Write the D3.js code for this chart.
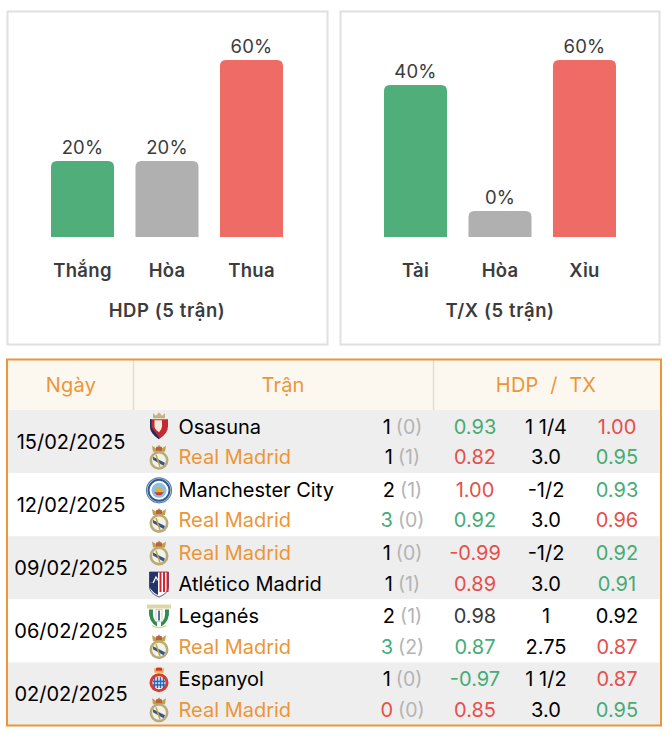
<!DOCTYPE html>
<html>
<head>
<meta charset="utf-8">
<script src="https://cdn.jsdelivr.net/npm/d3@7"></script>
<style>
  html, body { margin: 0; padding: 0; background: #fff; }
  svg { display: block; font-family: Inter, "Noto Sans", sans-serif; }
</style>
</head>
<body>
<script>
// Bar panels
let hdpLabels = ["Thắng", "Hòa", "Thua"];
let hdpValues = [20, 20, 60];
let txLabels = ["Tài", "Hòa", "Xỉu"];
let txValues = [40, 0, 60];
let barColors = ["#50ae7b", "#b0b0b0", "#ef6b65"];

// Match table
let dates = ["15/02/2025", "12/02/2025", "09/02/2025", "06/02/2025", "02/02/2025"];
let teams = ["Osasuna", "Real Madrid", "Manchester City", "Real Madrid", "Real Madrid",
  "Atlético Madrid", "Leganés", "Real Madrid", "Espanyol", "Real Madrid"];
let goals = [1, 1, 2, 3, 1, 1, 2, 3, 1, 0];
let halfGoals = [0, 1, 1, 0, 0, 1, 1, 2, 0, 0];
let goalTrend = ["n", "n", "n", "u", "n", "n", "n", "u", "n", "d"];
let oddsLeft = ["0.93", "0.82", "1.00", "0.92", "-0.99", "0.89", "0.98", "0.87", "-0.97", "0.85"];
let oddsLeftTrend = ["u", "d", "d", "u", "d", "d", "g", "u", "u", "d"];
let lines = ["1 1/4", "3.0", "-1/2", "3.0", "-1/2", "3.0", "1", "2.75", "1 1/2", "3.0"];
let oddsRight = ["1.00", "0.95", "0.93", "0.96", "0.92", "0.91", "0.92", "0.87", "0.87", "0.95"];
let oddsRightTrend = ["d", "u", "u", "d", "u", "u", "n", "d", "d", "u"];

let orange = "#ec9638";
let trendColor = { u: "#46ab75", d: "#e64f4b", n: "#000", g: "#3a3a3a" };

let svg = d3.select("body").append("svg")
  .attr("width", 670)
  .attr("height", 742);

// The site gives 0% a stub, and the 60% bar is capped, so the scale is piecewise
function drawPanel(left, width, labels, values, title) {
  let panel = svg.append("g").attr("transform", "translate(" + left + ",0)");

  panel.append("rect")
    .attr("x", 0.5).attr("y", 11.5)
    .attr("width", width).attr("height", 333)
    .attr("fill", "#fff")
    .attr("stroke", "#e0e0e0")
    .attr("stroke-width", 2);

  let x = d3.scaleBand()
    .domain(labels)
    .range([44, 276])
    .paddingInner(0.254)
    .paddingOuter(0);

  let y = d3.scaleLinear()
    .domain([0, 20, 40, 60])
    .range([211, 161, 85, 60]);
  let base = 237;

  labels.forEach((label, i) => {
    let bx = x(label), bw = x.bandwidth(), by = y(values[i]), r = 6;
    panel.append("path")
      .attr("d", "M" + bx + "," + base + "V" + (by + r)
        + "Q" + bx + "," + by + " " + (bx + r) + "," + by
        + "H" + (bx + bw - r)
        + "Q" + (bx + bw) + "," + by + " " + (bx + bw) + "," + (by + r)
        + "V" + base + "Z")
      .attr("fill", barColors[i]);
    panel.append("text")
      .attr("x", bx + bw / 2)
      .attr("y", by - 7)
      .attr("text-anchor", "middle")
      .attr("fill", "#3c3c3c")
      .style("font-size", "18.5px")
      .style("letter-spacing", "0.2px")
      .text(values[i] + "%");
  });

  let axis = panel.append("g")
    .attr("transform", "translate(0,264)")
    .call(d3.axisBottom(x).tickSize(0).tickPadding(0));
  axis.select(".domain").remove();
  axis.selectAll("text")
    .attr("fill", "#3c3c3c")
    .style("font-family", "Inter, sans-serif")
    .style("font-size", "18.5px")
    .style("font-weight", 600)
    .style("letter-spacing", "0.3px");

  panel.append("text")
    .attr("x", 160)
    .attr("y", 317)
    .attr("text-anchor", "middle")
    .attr("fill", "#3c3c3c")
    .style("font-size", "18.5px")
    .style("font-weight", 600)
    .style("letter-spacing", "0.6px")
    .text(title);
}

drawPanel(7, 320, hdpLabels, hdpValues, "HDP (5 trận)");
drawPanel(340, 319, txLabels, txValues, "T/X (5 trận)");

// Table
let table = svg.append("g");
let rowBand = d3.scaleBand().domain(dates).range([410, 725.5]);
let lineY = (i) => rowBand(dates[Math.floor(i / 2)]) + rowBand.bandwidth() / 2 + (i % 2 ? 15.8 : -14.8);

table.append("rect")
  .attr("x", 7).attr("y", 359).attr("width", 654).attr("height", 51)
  .attr("fill", "#fdf8ef");

dates.forEach((d, i) => {
  table.append("rect")
    .attr("x", 7).attr("y", rowBand(d))
    .attr("width", 654).attr("height", rowBand.bandwidth())
    .attr("fill", i % 2 ? "#fff" : "#eeeeee");
  table.append("text")
    .attr("x", 71).attr("y", rowBand(d) + rowBand.bandwidth() / 2 + 0.5)
    .attr("dy", "0.35em")
    .attr("text-anchor", "middle")
    .attr("fill", "#000")
    .style("font-size", "20px")
    .text(d);
});

// header dividers
[133.5, 433.5].forEach((lx) => {
  table.append("line")
    .attr("x1", lx).attr("x2", lx).attr("y1", 360).attr("y2", 410)
    .attr("stroke", "#e2ddd4").attr("stroke-width", 1.5);
});

table.append("rect")
  .attr("x", 7).attr("y", 359.5).attr("width", 654).attr("height", 366)
  .attr("fill", "none")
  .attr("stroke", orange)
  .attr("stroke-width", 2);

[["Ngày", 71], ["Trận", 283], ["HDP\u00a0\u00a0/\u00a0\u00a0TX", 546]].forEach((h) => {
  table.append("text")
    .attr("x", h[1]).attr("y", 385)
    .attr("dy", "0.35em")
    .attr("text-anchor", "middle")
    .attr("fill", orange)
    .style("font-size", "20px")
    .style("letter-spacing", "0.2px")
    .text(h[0]);
});

function cell(x, i, txt, color, anchor) {
  return table.append("text")
    .attr("x", x).attr("y", lineY(i))
    .attr("dy", "0.35em")
    .attr("text-anchor", anchor || "middle")
    .attr("fill", color)
    .style("font-size", "20px")
    .text(txt);
}

teams.forEach((team, i) => {
  cell(178.5, i, team, team === "Real Madrid" ? orange : "#000", "start");

  let score = cell(402.5, i, null, "#000");
  score.append("tspan").attr("fill", trendColor[goalTrend[i]]).text(goals[i]);
  score.append("tspan").attr("fill", "#b4b4b4").attr("dx", 5).style("font-size", "19.5px").text("(" + halfGoals[i] + ")");

  cell(475, i, oddsLeft[i], trendColor[oddsLeftTrend[i]]);
  cell(546, i, lines[i], "#000");
  cell(617, i, oddsRight[i], trendColor[oddsRightTrend[i]]);

  drawCrest(team, 159, lineY(i) + 0.5);
});

// Small hand drawn crests, each about 24px tall
function drawCrest(team, cx, cy) {
  let g = table.append("g").attr("transform", "translate(" + cx + "," + cy + ")");
  if (team === "Real Madrid") {
    g.append("path").attr("d", "M-6,-6 L-7,-12 L-3,-9.5 L0,-13 L3,-9.5 L7,-12 L6,-6 Z").attr("fill", "#c2a04a");
    g.append("path").attr("d", "M-3,-11 H3 V-7 H-3 Z").attr("fill", "#b5443e").attr("opacity", 0.7);
    g.append("circle").attr("cy", 2.5).attr("r", 8.2).attr("fill", "#f4f2e6").attr("stroke", "#b8ad78").attr("stroke-width", 2.6);
    g.append("path").attr("d", "M-6,-1 L6,5 L4.5,8 L-6,2 Z").attr("fill", "#35558f");
    g.append("path").attr("d", "M-3,-3 L1,9").attr("stroke", "#c3a548").attr("stroke-width", 1.5);
  } else if (team === "Osasuna") {
    g.append("path").attr("d", "M-6,-9 L-6,-14 L-3,-11.5 L0,-15 L3,-11.5 L6,-14 L6,-9 Z").attr("fill", "#c9b27a");
    g.append("path").attr("d", "M-9,-8 H9 V-1 Q9,6 0,12 Q-9,6 -9,-1 Z").attr("fill", "#c42a32");
    g.append("path").attr("d", "M-4.5,-7 H3 V-1 Q3,2 0,5 Q-4.5,2 -4.5,-1 Z").attr("fill", "#f4ecd8");
    g.append("path").attr("d", "M-9,-8 H-7.5 V0 L0,10 L0,12 Q-9,6 -9,-1 Z").attr("fill", "#1c2f5c");
  } else if (team === "Manchester City") {
    g.append("circle").attr("r", 12.5).attr("fill", "#fff").attr("stroke", "#5b7fa8").attr("stroke-width", 1.2);
    g.append("circle").attr("r", 10.5).attr("fill", "none").attr("stroke", "#2f5b93").attr("stroke-width", 2);
    g.append("circle").attr("r", 7.5).attr("fill", "#8cc0e6");
    g.append("path").attr("d", "M-4,2 L-3,-3 L3,-3 L4,2 Z").attr("fill", "#e0b03a");
    g.append("path").attr("d", "M-5,2 H5 L2,5 H-2 Z").attr("fill", "#c8432e");
  } else if (team === "Atlético Madrid") {
    g.append("path").attr("d", "M-9.5,-12 H9.5 V3 Q9.5,9 0,13 Q-9.5,9 -9.5,3 Z").attr("fill", "#fff").attr("stroke", "#26336a").attr("stroke-width", 0.8);
    g.append("path").attr("d", "M-9.5,-12 H-1 V-4 L-9.5,-1 Z").attr("fill", "#26336a");
    g.append("path").attr("d", "M-9.5,-1 L-1,-4 V11 Q-7,8 -9.5,3 Z").attr("fill", "#26336a");
    [1, 4.5, 8].forEach((s) => {
      g.append("rect").attr("x", s - 0.5).attr("y", -12).attr("width", 2).attr("height", 20).attr("fill", "#d8232f");
    });
    g.append("path").attr("d", "M-6,-1 L-3,-7 L-1,-4").attr("fill", "none").attr("stroke", "#fff").attr("stroke-width", 1.2);
  } else if (team === "Leganés") {
    g.append("rect").attr("x", -12).attr("y", -12).attr("width", 24).attr("height", 4).attr("fill", "#dcd6a8");
    g.append("path").attr("d", "M-10,-7 Q-11,5 -2,10 L-2,6 Q-7,3 -6,-7 Z").attr("fill", "#2f8a55");
    g.append("path").attr("d", "M10,-7 Q11,5 2,10 L2,6 Q7,3 6,-7 Z").attr("fill", "#2f8a55");
    g.append("rect").attr("x", -3).attr("y", -7).attr("width", 6).attr("height", 12).attr("fill", "#fff").attr("stroke", "#c9c38a").attr("stroke-width", 0.7);
    g.append("rect").attr("x", -0.8).attr("y", -6).attr("width", 1.6).attr("height", 10).attr("fill", "#2a4f8f");
    g.append("path").attr("d", "M-7,9 Q0,13 7,9").attr("fill", "none").attr("stroke", "#d8d2a0").attr("stroke-width", 1.5);
  } else if (team === "Espanyol") {
    g.append("path").attr("d", "M-4.5,-7 L-5,-12 L-2,-10 L0,-13 L2,-10 L5,-12 L4.5,-7 Z").attr("fill", "#e2b13c");
    g.append("path").attr("d", "M-3,-12 H3 V-9 H-3 Z").attr("fill", "#d6332c");
    g.append("circle").attr("cy", 3).attr("r", 9.5).attr("fill", "#d93a30");
    g.append("circle").attr("cy", 3).attr("r", 6.5).attr("fill", "#fff");
    [-4.5, -1.5, 1.5, 4.5].forEach((s) => {
      g.append("rect").attr("x", s - 0.8).attr("y", -2.5).attr("width", 1.6).attr("height", 11).attr("fill", "#2a66b5");
    });
    g.append("rect").attr("x", -6).attr("y", 1).attr("width", 12).attr("height", 1.5).attr("fill", "#2a66b5");
    g.append("rect").attr("x", -6).attr("y", 4.5).attr("width", 12).attr("height", 1.5).attr("fill", "#2a66b5");
  }
}
</script>
</body>
</html>
